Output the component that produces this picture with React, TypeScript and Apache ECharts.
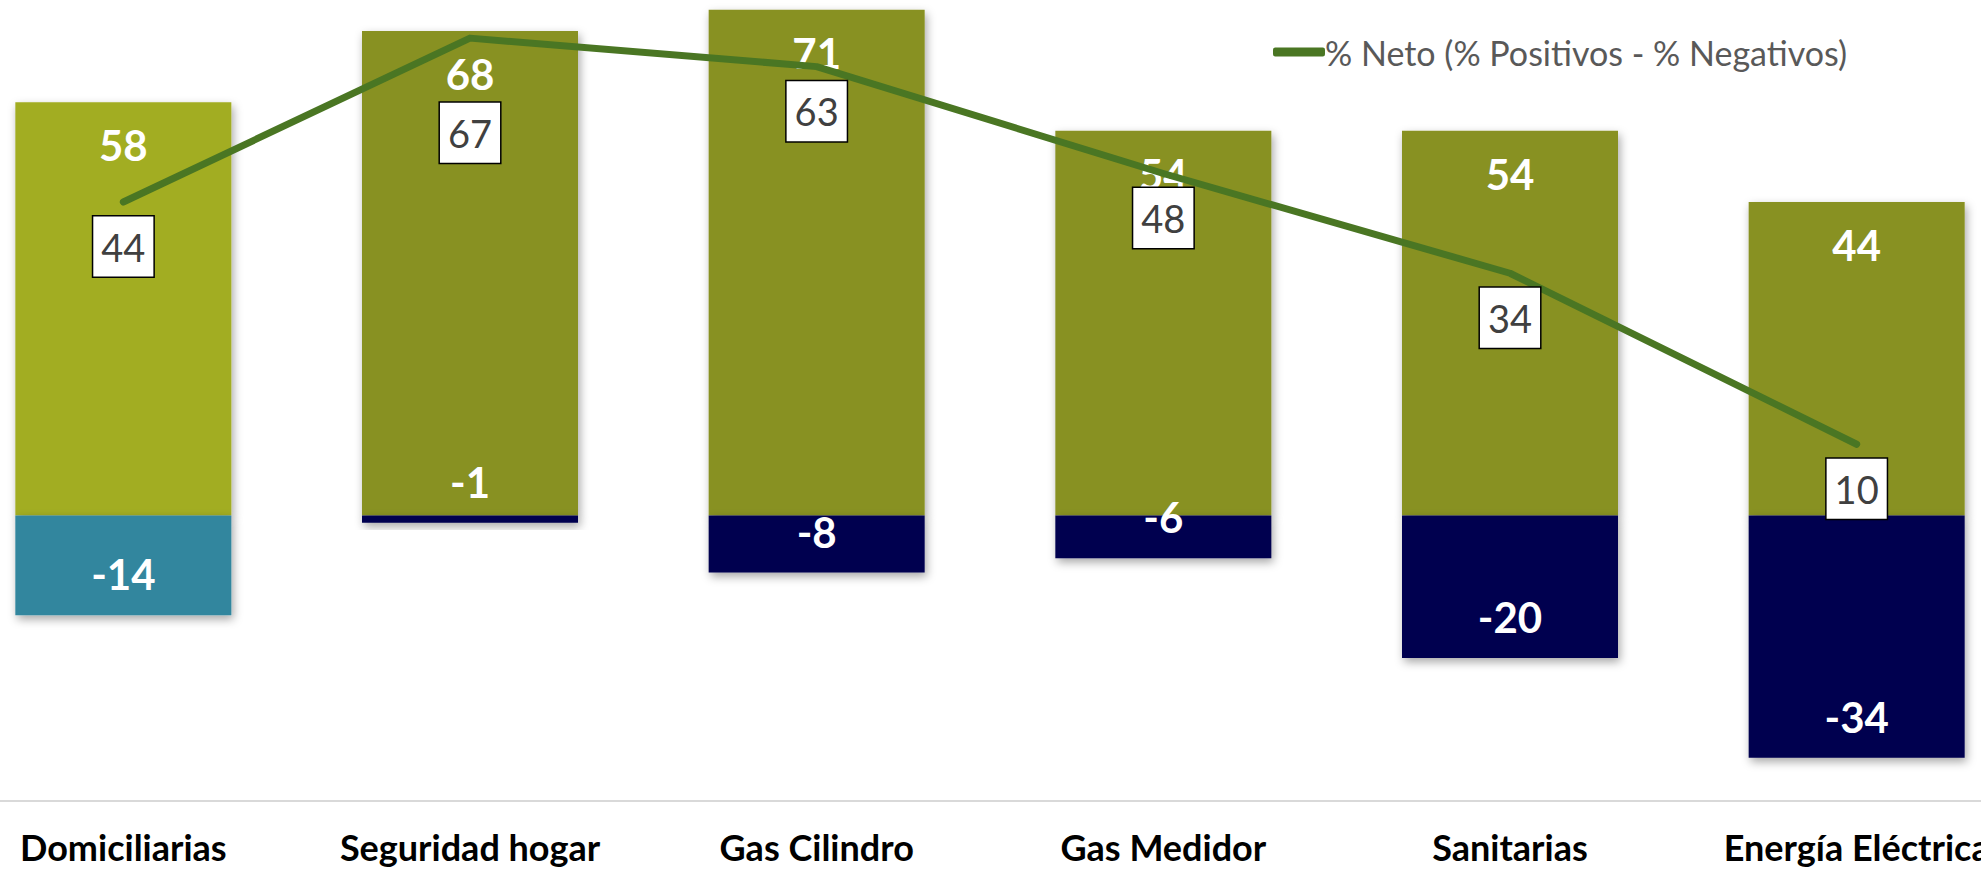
import React, { useEffect, useRef } from "react";
import * as echarts from "echarts";

const categories = ["Domiciliarias", "Seguridad hogar", "Gas Cilindro", "Gas Medidor", "Sanitarias", "Energía Eléctrica"];
const positives = [58, 68, 71, 54, 54, 44];
const negatives = [-14, -1, -8, -6, -20, -34];
const neto = [44, 67, 63, 48, 34, 10];
const netoLabelDistance = [14, 64, 14, 14, 14, 14];
const positiveColors = ["#A2AD24", "#889121", "#889121", "#889121", "#889121", "#889121"];
const negativeColors = ["#30869E", "#060050", "#060050", "#060050", "#060050", "#060050"];

const FONT = "Lato, 'Open Sans', sans-serif";

export default function App() {
  const ref = useRef<HTMLDivElement>(null);
  useEffect(() => {
    document.body.style.margin = "0";
    const chart = echarts.init(ref.current!, null, { renderer: "svg" });
    const shadow = {
      shadowBlur: 10,
      shadowOffsetX: 2,
      shadowOffsetY: 4,
      shadowColor: "rgba(0,0,0,0.35)",
    };
    chart.setOption({
      animation: false,
      backgroundColor: "#ffffff",
      textStyle: { fontFamily: FONT },
      legend: {
        data: ["% Neto (% Positivos - % Negativos)"],
        left: 1268,
        top: 30,
        icon: "roundRect",
        itemWidth: 52,
        itemHeight: 9,
        itemGap: 10,
        textStyle: { fontFamily: FONT, fontSize: 34, color: "#595959", padding: [0, 0, 0, -5] },
      },
      grid: { left: -50, width: 2080, top: 2.5, height: 798, containLabel: false, outerBoundsMode: "none" },
      xAxis: {
        type: "category",
        data: categories,
        axisLine: { onZero: false, lineStyle: { color: "#D9D9D9", width: 2 } },
        axisTick: { show: false },
        axisLabel: {
          interval: 0,
          margin: 28,
          fontFamily: FONT,
          fontSize: 36,
          fontWeight: "bold",
          color: "#000000",
          hideOverlap: false,
        },
      },
      yAxis: {
        type: "value",
        min: -40,
        max: 72,
        show: false,
        splitLine: { show: false },
      },
      series: [
        {
          name: "Positivos",
          type: "bar",
          stack: "total",
          barWidth: 216,
          data: positives.map((v, i) => ({ value: v, itemStyle: { color: positiveColors[i] } })),
          itemStyle: { ...shadow },
          label: {
            show: true,
            position: "insideTop",
            distance: 22,
            fontFamily: FONT,
            fontSize: 42,
            lineHeight: 42,
            fontWeight: "bold",
            color: "#ffffff",
          },
          z: 2,
        },
        {
          name: "Negativos",
          type: "bar",
          stack: "total",
          barWidth: 216,
          data: negatives.map((v, i) => ({ value: v, itemStyle: { color: negativeColors[i] } })),
          itemStyle: { ...shadow },
          label: {
            show: true,
            position: "insideBottom",
            distance: 20,
            fontFamily: FONT,
            fontSize: 42,
            lineHeight: 42,
            fontWeight: "bold",
            color: "#ffffff",
          },
          z: 2,
        },
        {
          name: "% Neto (% Positivos - % Negativos)",
          type: "line",
          data: neto.map((v, i) => ({ value: v, label: { distance: netoLabelDistance[i] } })),
          symbol: "circle",
          symbolSize: 1,
          itemStyle: { color: "#4A7623" },
          lineStyle: { color: "#4A7623", width: 7, cap: "round", join: "round" },
          label: {
            show: true,
            position: "bottom",
            fontFamily: FONT,
            fontSize: 38,
            lineHeight: 38,
            color: "#404040",
            backgroundColor: "#ffffff",
            borderColor: "#000000",
            borderWidth: 1.5,
            padding: [11, 8, 11, 8],
          },
          z: 5,
        },
      ],
    });
    return () => chart.dispose();
  }, []);
  return <div ref={ref} style={{ position: "fixed", left: 0, top: 0, width: 1981, height: 869 }} />;
}
